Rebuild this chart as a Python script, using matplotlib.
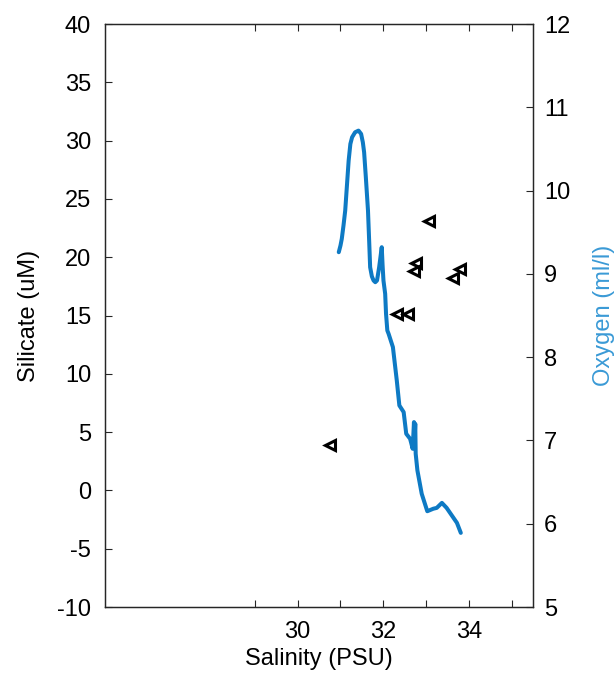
import matplotlib
matplotlib.use("Agg")
import matplotlib.pyplot as plt

plt.rcParams['font.family'] = ['Liberation Sans', 'DejaVu Sans']
plt.rcParams['axes.unicode_minus'] = False

# Bottle samples: salinity vs silicate
sal_samples = [33.05, 32.75, 32.70, 33.78, 33.62, 32.32, 32.56, 30.75]
silicate = [23.1, 19.5, 18.8, 19.0, 18.2, 15.1, 15.1, 3.9]

# CTD profile: salinity vs dissolved oxygen
sal_profile = [30.96, 31.00, 31.03, 31.07, 31.11, 31.19, 31.23, 31.27, 31.34,
               31.42, 31.48, 31.52, 31.55, 31.59, 31.64, 31.67, 31.69, 31.73,
               31.77, 31.81, 31.85, 31.90, 31.96, 31.98, 32.00, 32.04, 32.06,
               32.09, 32.12, 32.22, 32.31, 32.37, 32.47, 32.53, 32.62, 32.68,
               32.71, 32.72, 32.74, 32.75, 32.79, 32.89, 33.02, 33.16, 33.24,
               33.36, 33.47, 33.63, 33.71, 33.80]
oxygen = [9.26, 9.34, 9.42, 9.58, 9.76, 10.36, 10.56, 10.64, 10.70,
          10.72, 10.68, 10.58, 10.46, 10.16, 9.76, 9.36, 9.08, 8.97,
          8.92, 8.90, 8.92, 9.08, 9.32, 9.10, 8.92, 8.76, 8.52,
          8.32, 8.28, 8.12, 7.72, 7.42, 7.34, 7.08, 7.02, 6.90,
          7.22, 6.95, 7.20, 6.84, 6.64, 6.36, 6.15, 6.18, 6.19,
          6.25, 6.19, 6.07, 6.01, 5.89]

x_ticks = [29, 30, 31, 32, 33, 34, 35]
x_tick_labels = ['', '30', '', '32', '', '34', '']
left_ticks = [-10, -5, 0, 5, 10, 15, 20, 25, 30, 35, 40]
right_ticks = [5, 6, 7, 8, 9, 10, 11, 12]

line_blue = '#0e7ac4'
label_blue = '#3a9ad6'
axis_grey = '#262626'
fs = 17

fig = plt.figure(figsize=(6.14, 6.79), dpi=100)
ax = fig.add_axes([105 / 614, 1 - 607 / 679, 428 / 614, 583 / 679])
ax2 = ax.twinx()

ax.plot(sal_samples, silicate, linestyle='none', marker='<', markersize=7.5,
        markerfacecolor='white', markeredgecolor='black', markeredgewidth=2.2,
        zorder=3)
ax2.plot(sal_profile, oxygen, color=line_blue, linewidth=2.9,
         solid_joinstyle='round', solid_capstyle='round')

ax.set_xlim(25.52, 35.48)
ax.set_ylim(-10, 40)
ax2.set_ylim(5, 12)

ax.set_xticks(x_ticks)
ax.set_xticklabels(x_tick_labels)
ax.set_yticks(left_ticks)
ax2.set_yticks(right_ticks)

ax.tick_params(axis='x', direction='in', top=True, bottom=True, length=5,
               width=0.8, color=axis_grey, labelsize=fs, pad=10)
ax.tick_params(axis='y', direction='in', left=True, right=False, length=5,
               width=0.8, color=axis_grey, labelsize=fs, pad=10)
ax2.tick_params(axis='y', direction='in', right=True, length=5,
                width=0.8, color=axis_grey, labelsize=fs, pad=8)

for a in (ax, ax2):
    for s in a.spines.values():
        s.set_color(axis_grey)
        s.set_linewidth(0.9)

ax.set_xlabel('Salinity (PSU)', fontsize=fs, labelpad=4)
ax.set_ylabel('Silicate (uM)', fontsize=fs, labelpad=12)
ax2.set_ylabel('Oxygen (ml/l)', fontsize=fs, color=label_blue, labelpad=16)

fig.savefig('out.png', dpi=100)
